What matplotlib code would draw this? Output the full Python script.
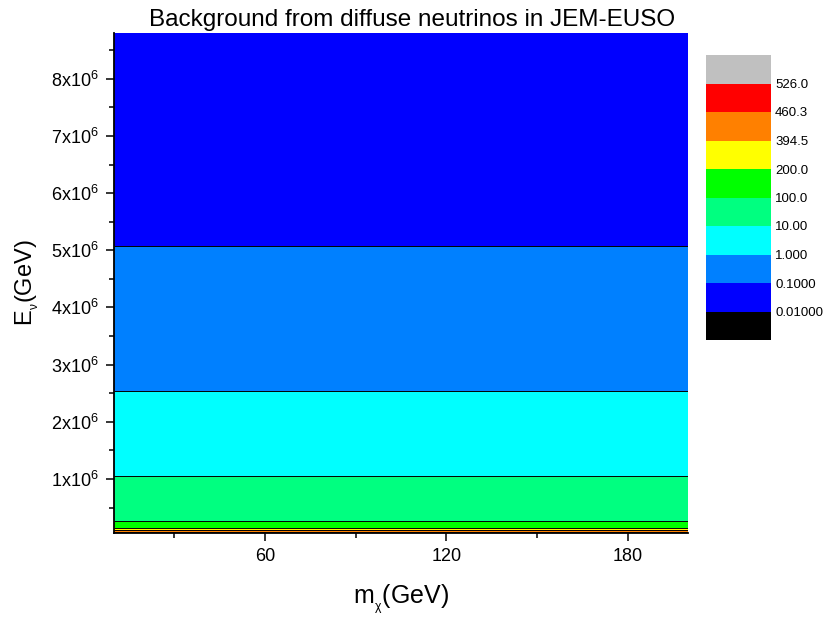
import numpy as np
import matplotlib
matplotlib.use('Agg')
import matplotlib.pyplot as plt
from matplotlib.colors import ListedColormap, BoundaryNorm
from matplotlib.ticker import MultipleLocator, FuncFormatter

plt.rcParams['font.family'] = ['Liberation Sans', 'DejaVu Sans']
plt.rcParams['mathtext.default'] = 'regular'

# data
m_chi = [10, 200]
e_nu = [5.0e4, 6.5e4, 8.0e4, 1.0e5, 1.5e5, 2.65e5, 1.06e6, 2.53e6, 5.07e6, 8.8e6]
flux = [600.0, 526.0, 460.3, 394.5, 200.0, 100.0, 10.0, 1.0, 0.1, 0.05]

levels = [0.01, 0.1, 1, 10, 100, 200, 394.5, 460.3, 526.0]
level_labels = ['0.01000', '0.1000', '1.000', '10.00', '100.0', '200.0', '394.5', '460.3', '526.0']
band_colors = ['#0000FF', '#0080FF', '#00FFFF', '#00FF80', '#00FF00', '#FFFF00', '#FF8000', '#FF0000']
under_color = '#000000'
over_color = '#C0C0C0'

X, Y = np.meshgrid(m_chi, e_nu)
Z = np.tile(np.array(flux)[:, None], (1, len(m_chi)))

cmap = ListedColormap(band_colors)
cmap.set_under(under_color)
cmap.set_over(over_color)
norm = BoundaryNorm(levels, cmap.N)

fig = plt.figure(figsize=(8.25, 6.2), dpi=100)
ax = fig.add_axes([114 / 825, 87 / 620, 574 / 825, 500 / 620])

cs = ax.contourf(X, Y, Z, levels=levels, cmap=cmap, norm=norm, extend='both')
ax.contour(X, Y, Z, levels=levels, colors='k', linewidths=0.7)

ax.set_xlim(10, 200)
ax.set_ylim(5.5e4, 8.8e6)

ax.xaxis.set_major_locator(MultipleLocator(60))
ax.xaxis.set_minor_locator(MultipleLocator(30))
ax.yaxis.set_major_locator(MultipleLocator(1e6))
ax.yaxis.set_minor_locator(MultipleLocator(5e5))
ax.yaxis.set_major_formatter(FuncFormatter(lambda v, p: f'{v / 1e6:.0f}x10$^{{6}}$'))

ax.tick_params(which='both', direction='out', width=1.1, labelsize=13)
ax.tick_params(which='major', length=6, pad=5)
ax.tick_params(which='minor', length=3.5)
ax.spines['top'].set_visible(False)
ax.spines['right'].set_visible(False)
ax.spines['left'].set_linewidth(1.3)
ax.spines['bottom'].set_linewidth(1.3)

ax.set_xlabel(r'm$_{{}_\chi}$(GeV)', fontsize=18, labelpad=12)
ax.set_ylabel(r'E$_{{}_\nu}$(GeV)', fontsize=17, labelpad=7)
fig.text(0.5, 0.968, 'Background from diffuse neutrinos in JEM-EUSO', ha='center', va='center', fontsize=17.5)

cax = fig.add_axes([706 / 825, 280 / 620, 65 / 825, 285 / 620])
cb = fig.colorbar(cs, cax=cax, extend='both', extendrect=True, extendfrac=0.125, spacing='uniform')
cb.outline.set_visible(False)
cb.set_ticks(levels)
cb.set_ticklabels(level_labels)
cb.ax.tick_params(length=0, labelsize=9.5, pad=3)
cb.ax.minorticks_off()

fig.savefig('out.png', dpi=100)
